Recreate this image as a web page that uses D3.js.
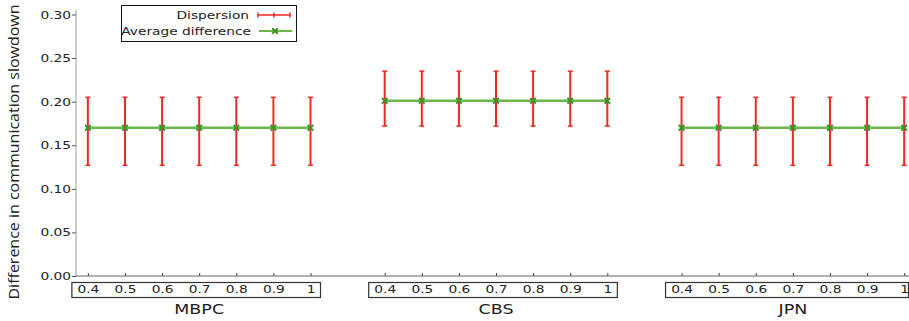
<!DOCTYPE html>
<html>
<head>
<meta charset="utf-8">
<script src="https://cdn.jsdelivr.net/npm/d3@7"></script>
<style>
  body { margin: 0; background: #fff; }
  svg text { font-family: "DejaVu Sans", sans-serif; fill: #222; }
</style>
</head>
<body>
<div id="chart"></div>
<script>
var svgWidth = 909;
var svgHeight = 321;

// data
var groups = ["MBPC", "CBS", "JPN"];
var thresholds = ["0.4", "0.5", "0.6", "0.7", "0.8", "0.9", "1"];
var meanMBPC = [0.170, 0.170, 0.170, 0.170, 0.170, 0.170, 0.170];
var lowMBPC  = [0.127, 0.127, 0.127, 0.127, 0.127, 0.127, 0.127];
var highMBPC = [0.205, 0.205, 0.205, 0.205, 0.205, 0.205, 0.205];
var meanCBS  = [0.201, 0.201, 0.201, 0.201, 0.201, 0.201, 0.201];
var lowCBS   = [0.172, 0.172, 0.172, 0.172, 0.172, 0.172, 0.172];
var highCBS  = [0.235, 0.235, 0.235, 0.235, 0.235, 0.235, 0.235];
var meanJPN  = [0.170, 0.170, 0.170, 0.170, 0.170, 0.170, 0.170];
var lowJPN   = [0.127, 0.127, 0.127, 0.127, 0.127, 0.127, 0.127];
var highJPN  = [0.205, 0.205, 0.205, 0.205, 0.205, 0.205, 0.205];
var yTicks = [0, 0.05, 0.10, 0.15, 0.20, 0.25, 0.30];

var means = [meanMBPC, meanCBS, meanJPN];
var lows = [lowMBPC, lowCBS, lowJPN];
var highs = [highMBPC, highCBS, highJPN];

var red = "#ee2a22";
var green = "#6cb64c";
var stretch = "scale(1.25,1)";

// one slot per threshold, a gap of one slot between groups
var rows = [];
groups.forEach(function(g, gi) {
  thresholds.forEach(function(t, ti) {
    rows.push({group: g, gi: gi, label: t, pos: gi * 8 + ti,
      mean: means[gi][ti], low: lows[gi][ti], high: highs[gi][ti]});
  });
});

var svg = d3.select("#chart")
  .append("svg")
  .attr("width", svgWidth)
  .attr("height", svgHeight);

var xScale = d3.scaleLinear()
  .domain([-0.32, 22.13])
  .range([76, 909]);

var yScale = d3.scaleLinear()
  .domain([0, 0.30])
  .range([276, 14.5]);

// y axis
var leftAxis = d3.axisLeft(yScale)
  .tickValues(yTicks)
  .tickFormat(d3.format(".2f"))
  .tickSize(4)
  .tickPadding(0);

var yAxisG = svg.append("g")
  .attr("transform", "translate(76,0)")
  .call(leftAxis);
yAxisG.select(".domain").attr("stroke", "#999").attr("d", "M0,10V276");
yAxisG.selectAll(".tick line").attr("stroke", "#555");
yAxisG.selectAll(".tick text")
  .attr("x", null)
  .attr("transform", "translate(-5,0) " + stretch)
  .style("font-size", "11px")
  .attr("fill", "#222");

// x axis
var bottomAxis = d3.axisBottom(xScale)
  .tickValues(rows.map(d => d.pos))
  .tickSize(-3)
  .tickFormat((d, i) => rows[i].label)
  .tickPadding(0);

var xAxisG = svg.append("g")
  .attr("transform", "translate(0,276)")
  .call(bottomAxis);
xAxisG.select(".domain").attr("stroke", "#666").attr("d", "M76,0H909");
xAxisG.selectAll(".tick line").attr("stroke", "#444");
xAxisG.selectAll(".tick text")
  .attr("y", null)
  .attr("dy", null)
  .attr("transform", "translate(0,17) " + stretch)
  .style("font-size", "11px")
  .attr("fill", "#222");

// boxes round each group's tick labels and group names
groups.forEach(function(g, gi) {
  var x0 = xScale(gi * 8) - 16;
  var x1 = Math.min(xScale(gi * 8 + 6) + 10, 908.5);
  svg.append("rect")
    .attr("x", x0)
    .attr("y", 282.5)
    .attr("width", x1 - x0)
    .attr("height", 15)
    .attr("fill", "none")
    .attr("stroke", "#333")
    .attr("stroke-width", 1.2);
  svg.append("g")
    .attr("transform", `translate(${xScale(gi * 8 + 3)},314) ${stretch}`)
    .append("text")
    .attr("text-anchor", "middle")
    .style("font-size", "14px")
    .text(g);
});

// y axis title
svg.append("text")
  .attr("transform", "translate(19,152) rotate(-90)")
  .attr("text-anchor", "middle")
  .attr("textLength", 295)
  .attr("lengthAdjust", "spacingAndGlyphs")
  .style("font-family", "'Open Sans', sans-serif")
  .style("font-size", "14px")
  .text("Difference in communication slowdown");

// error bars
var bars = svg.append("g").selectAll("g")
  .data(rows)
  .enter()
  .append("g")
  .attr("stroke", red)
  .attr("stroke-width", 2);

bars.append("line")
  .attr("x1", d => xScale(d.pos))
  .attr("x2", d => xScale(d.pos))
  .attr("y1", d => yScale(d.low))
  .attr("y2", d => yScale(d.high));
bars.append("line")
  .attr("x1", d => xScale(d.pos) - 2.5)
  .attr("x2", d => xScale(d.pos) + 2.5)
  .attr("y1", d => yScale(d.low))
  .attr("y2", d => yScale(d.low))
  .attr("stroke-width", 1.5);
bars.append("line")
  .attr("x1", d => xScale(d.pos) - 2.5)
  .attr("x2", d => xScale(d.pos) + 2.5)
  .attr("y1", d => yScale(d.high))
  .attr("y2", d => yScale(d.high))
  .attr("stroke-width", 1.5);

// average lines
var line = d3.line()
  .x(d => xScale(d.pos))
  .y(d => yScale(d.mean));

groups.forEach(function(g, gi) {
  svg.append("path")
    .datum(rows.filter(d => d.gi === gi))
    .attr("d", line)
    .attr("fill", "none")
    .attr("stroke", green)
    .attr("stroke-width", 2.5);
});

var cross = d3.symbol().type(d3.symbolX).size(22);
svg.append("g").selectAll("path")
  .data(rows)
  .enter()
  .append("path")
  .attr("d", cross)
  .attr("transform", d => `translate(${xScale(d.pos)},${yScale(d.mean)})`)
  .attr("fill", "none")
  .attr("stroke", "#3f8f2a")
  .attr("stroke-width", 2);

// legend
var legend = svg.append("g");
legend.append("rect")
  .attr("x", 121.5)
  .attr("y", 5.5)
  .attr("width", 175)
  .attr("height", 36)
  .attr("fill", "#fff")
  .attr("stroke", "#111")
  .attr("stroke-width", 1);

legend.append("g")
  .attr("transform", "translate(249,19) " + stretch)
  .append("text")
  .attr("text-anchor", "end")
  .style("font-size", "11px")
  .text("Dispersion");
legend.append("g")
  .attr("transform", "translate(251,35) " + stretch)
  .append("text")
  .attr("text-anchor", "end")
  .style("font-size", "11px")
  .text("Average difference");

var lg = legend.append("g").attr("stroke", red).attr("stroke-width", 1.5);
lg.append("line").attr("x1", 258).attr("x2", 290).attr("y1", 15).attr("y2", 15);
[258, 274, 290].forEach(function(x) {
  lg.append("line").attr("x1", x).attr("x2", x).attr("y1", 12.5).attr("y2", 17.5);
});
legend.append("line")
  .attr("x1", 259).attr("x2", 292).attr("y1", 31).attr("y2", 31)
  .attr("stroke", green).attr("stroke-width", 2);
legend.append("path")
  .attr("d", cross)
  .attr("transform", "translate(275,31)")
  .attr("fill", "none")
  .attr("stroke", "#3f8f2a")
  .attr("stroke-width", 2);
</script>
</body>
</html>
